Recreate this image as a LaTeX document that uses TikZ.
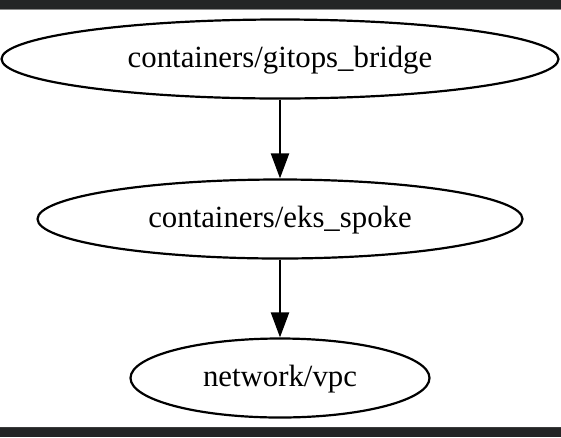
\documentclass[tikz,border=0pt]{standalone}
\usepackage{fontspec}
\setmainfont{Liberation Serif}
\usetikzlibrary{shapes.geometric,arrows.meta}
\definecolor{bandcol}{HTML}{242526}
\definecolor{bandline}{HTML}{8A8A8A}
\definecolor{bandline2}{HTML}{3A3B3C}
\tikzset{
  gvnode/.style={draw=black, line width=2.2pt, ellipse, inner sep=0pt,
    minimum height=79pt, text height=20pt, text depth=4pt,
    font=\fontsize{30.8}{36}\selectfont},
  gvedge/.style={draw=black, line width=2.2pt, -{Triangle[length=25pt,width=18pt]}}
}
\begin{document}
\begin{tikzpicture}[x=1pt,y=-1pt]
\useasboundingbox (0,0) rectangle (561,437);
\fill[white] (0,0) rectangle (561,437);
\fill[bandcol] (0,0) rectangle (561,9);
\fill[bandline] (0,9) rectangle (561,10);
\fill[bandcol] (0,426.5) rectangle (561,437);
\fill[bandline2] (0,426.5) rectangle (561,427.5);
\node[gvnode, minimum width=557pt] (gb) at (280,59) {containers/gitops\_bridge};
\node[gvnode, minimum width=485pt] (es) at (280,219) {containers/eks\_spoke};
\node[gvnode, minimum width=299pt] (vpc) at (280,378) {network/vpc};
\draw[gvedge] (gb) -- (es);
\draw[gvedge] (es) -- (vpc);
\end{tikzpicture}
\end{document}
